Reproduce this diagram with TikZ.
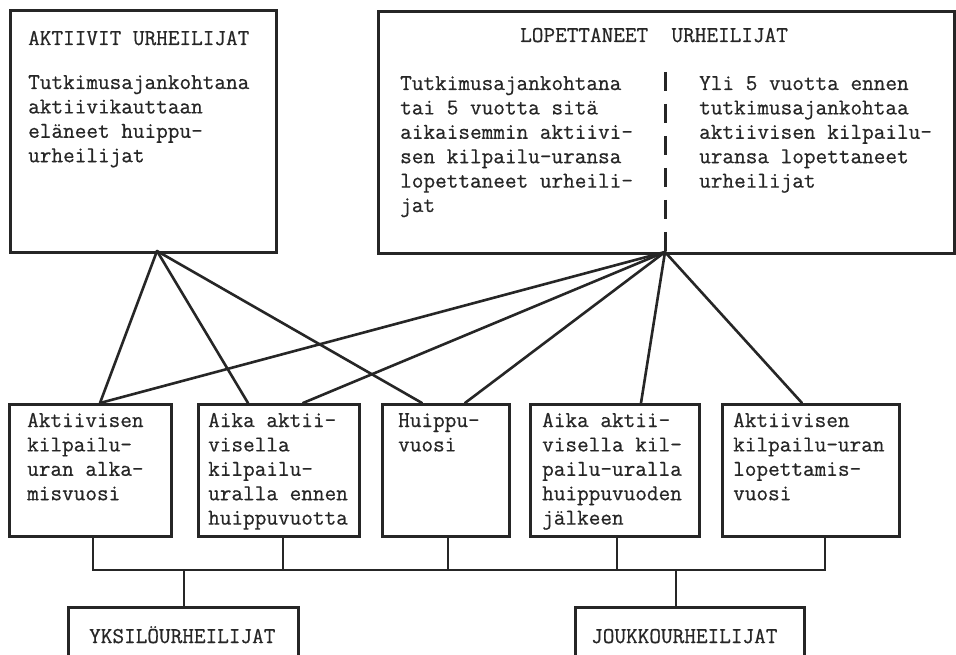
\documentclass[tikz,border=0pt]{standalone}
\usepackage{fontspec}
\newfontfamily\typewriter[FakeBold=0.6]{Latin Modern Mono}
\definecolor{ink}{HTML}{262626}
\newcommand\txtlines[1]{\begin{tabular}[t]{@{}l@{}}#1\end{tabular}}
\begin{document}
\begin{tikzpicture}[x=1pt,y=-1pt,
  frame/.style={draw=ink, line width=2.9pt, anchor=north west, inner sep=0pt},
  link/.style={draw=ink, line width=2.6pt, line cap=round},
  wire/.style={draw=ink, line width=2.5pt},
  txt/.style={anchor=base west, inner sep=0pt, text=ink,
    font=\fontsize{22.6}{24.4}\selectfont\typewriter}]
\useasboundingbox[fill=white] (0,0) rectangle (956,655);

% upper boxes
\node[frame, minimum width=266pt, minimum height=242pt] (act) at (9,9) {};
\node[frame, minimum width=576pt, minimum height=242pt] (lop) at (377,10) {};

\node[txt] (acttitle) at (28,45) {AKTIIVIT URHEILIJAT};
\node[txt] (acttext) at (28,89) {\txtlines{Tutkimusajankohtana\\aktiivikauttaan\\eläneet huippu-\\urheilijat}};

\node[txt] (loptitle) at (520,42) {LOPETTANEET~~URHEILIJAT};
\node[txt] (lopleft) at (400,90) {\txtlines{Tutkimusajankohtana\\tai 5 vuotta sitä\\aikaisemmin aktiivi-\\sen kilpailu-uransa\\lopettaneet urheili-\\jat}};
\node[txt] (lopright) at (699,90) {\txtlines{Yli 5 vuotta ennen\\tutkimusajankohtaa\\aktiivisen kilpailu-\\uransa lopettaneet\\urheilijat}};

% divider inside the right box
\coordinate (divtop) at (665,72);
\coordinate (lopfoot) at (665,252);
\coordinate (actfoot) at (157,251);
\draw[draw=ink, line width=3pt, dash pattern=on 19pt off 13pt] (divtop) -- (lopfoot);

% variable boxes
\node[frame, minimum width=162pt, minimum height=132pt] (b1) at (8,403) {};
\node[frame, minimum width=161pt, minimum height=132pt] (b2) at (197,403) {};
\node[frame, minimum width=127pt, minimum height=132pt] (b3) at (381,403) {};
\node[frame, minimum width=169pt, minimum height=132pt] (b4) at (529,403) {};
\node[frame, minimum width=177pt, minimum height=132pt] (b5) at (721,403) {};

\node[txt] (b1text) at (27,427) {\txtlines{Aktiivisen\\kilpailu-\\uran alka-\\misvuosi}};
\node[txt] (b2text) at (208,427) {\txtlines{Aika aktii-\\visella\\kilpailu-\\uralla ennen\\huippuvuotta}};
\node[txt] (b3text) at (398,427) {\txtlines{Huippu-\\vuosi}};
\node[txt] (b4text) at (542,427) {\txtlines{Aika aktii-\\visella kil-\\pailu-uralla\\huippuvuoden\\jälkeen}};
\node[txt] (b5text) at (733,427) {\txtlines{Aktiivisen\\kilpailu-uran\\lopettamis-\\vuosi}};

% connector ends on the box tops
\coordinate (b1t) at (100,403);
\coordinate (b2l) at (248,403);
\coordinate (b2r) at (303,403);
\coordinate (b3l) at (422,403);
\coordinate (b3r) at (465,403);
\coordinate (b4t) at (641,403);
\coordinate (b5t) at (802,403);

\draw[link] (actfoot) -- (b1t);
\draw[link] (actfoot) -- (b2l);
\draw[link] (actfoot) -- (b3l);
\draw[link] (lopfoot) -- (b1t);
\draw[link] (lopfoot) -- (b2r);
\draw[link] (lopfoot) -- (b3r);
\draw[link] (lopfoot) -- (b4t);
\draw[link] (lopfoot) -- (b5t);

% collecting bus
\coordinate (s1) at (93,570);
\coordinate (s2) at (283,570);
\coordinate (s3) at (448,570);
\coordinate (s4) at (617,570);
\coordinate (s5) at (825,570);
\draw[wire] (b1.south -| s1) -- (s1);
\draw[wire] (b2.south -| s2) -- (s2);
\draw[wire] (b3.south -| s3) -- (s3);
\draw[wire] (b4.south -| s4) -- (s4);
\draw[wire] (b5.south -| s5) -- (s5);
\draw[wire, line cap=rect] (s1) -- (s5);

% sport groups
\node[frame, minimum width=230pt, minimum height=56pt] (ind) at (67,606) {};
\node[frame, minimum width=229pt, minimum height=56pt] (team) at (574,606) {};
\coordinate (g1) at (184,570);
\coordinate (g2) at (676,570);
\draw[wire] (g1) -- (ind.north -| g1);
\draw[wire] (g2) -- (team.north -| g2);

\node[txt] (indtext) at (89,643) {YKSILÖURHEILIJAT};
\node[txt] (teamtext) at (591,643) {JOUKKOURHEILIJAT};
\end{tikzpicture}
\end{document}
